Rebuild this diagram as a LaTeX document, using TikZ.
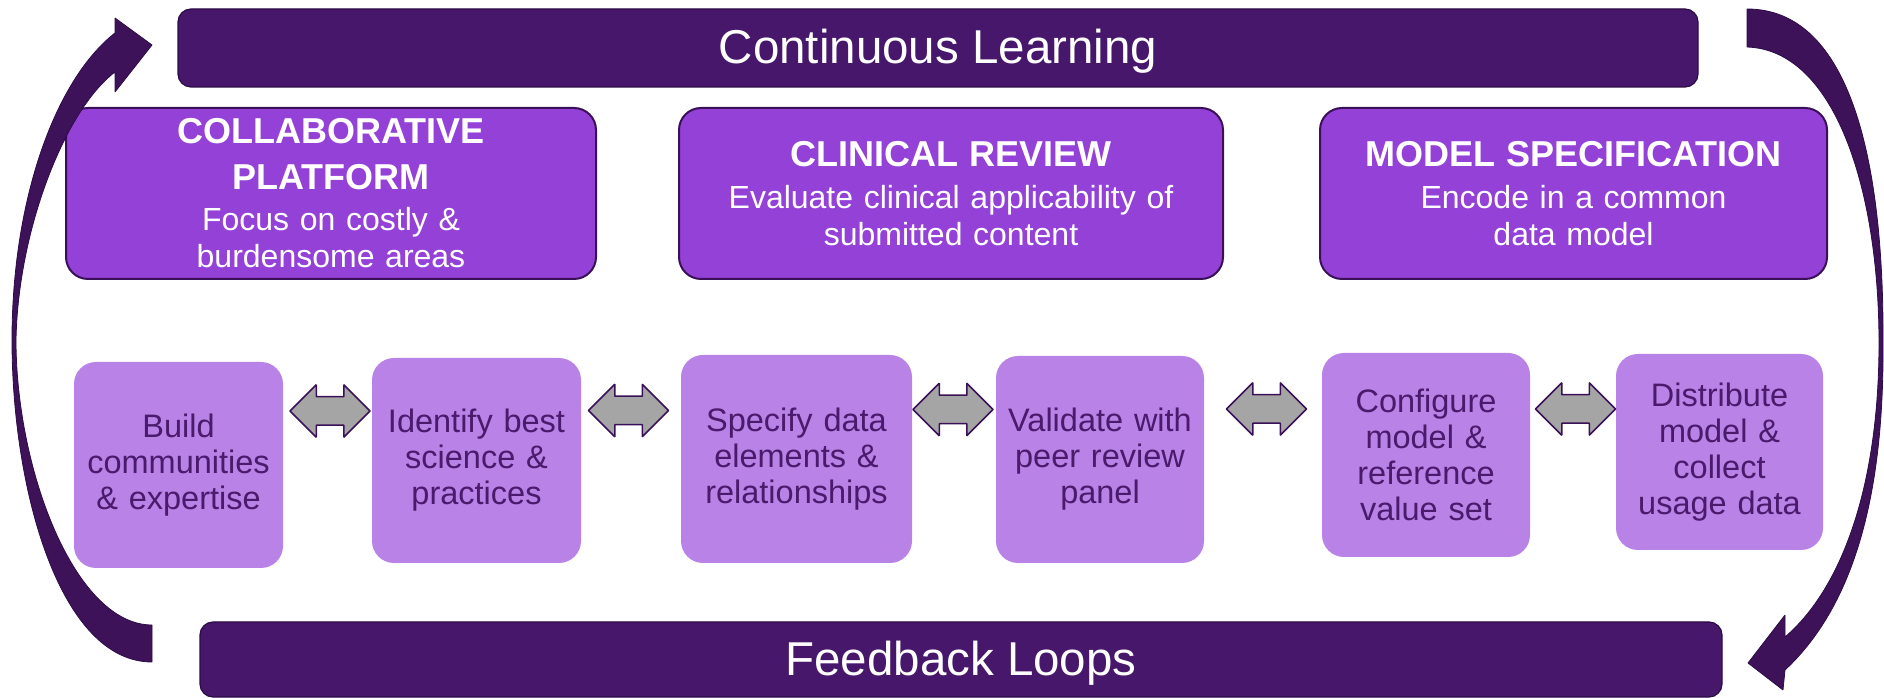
\documentclass[tikz,border=0pt]{standalone}
\usepackage{fontspec}
\setmainfont{Liberation Sans}
\usetikzlibrary{shapes.arrows}
\setlength{\parindent}{0pt}
\definecolor{barpurple}{HTML}{46176A}
\definecolor{barline}{HTML}{2E0C47}
\definecolor{loopdark}{HTML}{3D1259}
\definecolor{phasepurple}{HTML}{9441D8}
\definecolor{phaseline}{HTML}{3A1158}
\definecolor{steppurple}{HTML}{B882E6}
\definecolor{steptext}{HTML}{4A1A6C}
\definecolor{swapgray}{HTML}{A5A5A5}
\newcommand{\phasetitle}{\fontsize{36bp}{45.6bp}\selectfont\bfseries}
\begin{document}
\begin{tikzpicture}[line join=bevel,
  titlebar/.style={draw=barline,line width=1.2bp,fill=barpurple,rounded corners=13bp,text=white,font=\fontsize{47.5bp}{50bp}\selectfont,inner sep=0pt,text height=34bp,text depth=3bp},
  phasebox/.style={draw=phaseline,line width=2bp,fill=phasepurple,rounded corners=22bp,text=white,font=\fontsize{32bp}{37bp}\selectfont,align=center,inner sep=0pt,minimum height=171bp},
  stepbox/.style={fill=steppurple,rounded corners=22bp,text=steptext,font=\fontsize{32.5bp}{36bp}\selectfont,align=center,inner sep=0pt},
  swaparrow/.style={double arrow,draw=phaseline,line width=1.5bp,fill=swapgray,inner xsep=0pt,inner ysep=13.5bp,double arrow head extend=12bp,minimum height=80bp},
  loopband/.style={fill=loopdark,draw=barline,line width=0.8bp}]
%%
\useasboundingbox (0bp,0bp) rectangle (1884bp,698bp);
\node (node_learning) at (938.0bp,650.0bp) [titlebar,minimum width=1520bp,minimum height=78bp] {Continuous Learning};
  \node (node_feedback) at (961.0bp,38.5bp) [titlebar,minimum width=1522bp,minimum height=75bp] {Feedback Loops};
  \node (node_collab) at (331.0bp,504.5bp) [phasebox,text width=530bp] {{\phasetitle COLLABORATIVE\\ PLATFORM\par}\vskip4.5bp Focus on costly \&\\ burdensome areas};
  \node (node_clinical) at (951.0bp,504.5bp) [phasebox,text width=544bp] {{\phasetitle CLINICAL REVIEW\par}\vskip4.5bp Evaluate clinical applicability of\\ submitted content};
  \node (node_model) at (1573.5bp,504.5bp) [phasebox,text width=507bp] {{\phasetitle MODEL SPECIFICATION\par}\vskip4.5bp Encode in a common\\ data model};
  \node (node_build) at (178.5bp,233.0bp) [stepbox,text width=209bp,minimum height=206bp] {Build\\ communities\\ \& expertise};
  \node (node_identify) at (476.5bp,237.5bp) [stepbox,text width=209bp,minimum height=205bp] {Identify best\\ science \&\\ practices};
  \node (node_specify) at (796.5bp,239.0bp) [stepbox,text width=231bp,minimum height=208bp] {Specify data\\ elements \&\\ relationships};
  \node (node_validate) at (1100.0bp,238.5bp) [stepbox,text width=208bp,minimum height=207bp] {Validate with\\ peer review\\ panel};
  \node (node_configure) at (1426.0bp,243.0bp) [stepbox,text width=208bp,minimum height=204bp] {Configure\\ model \&\\ reference\\ value set};
  \node (node_distribute) at (1719.5bp,246.0bp) [stepbox,text width=207bp,minimum height=196bp] {Distribute\\ model \&\\ collect\\ usage data};
  \node (node_swap1) at (330.0bp,287.0bp) [swaparrow] {};
  \node (node_swap2) at (628.5bp,287.5bp) [swaparrow] {};
  \node (node_swap3) at (953.0bp,288.5bp) [swaparrow] {};
  \node (node_swap4) at (1266.5bp,289.0bp) [swaparrow] {};
  \node (node_swap5) at (1575.5bp,289.0bp) [swaparrow] {};
  \filldraw [loopband] (152.0bp,36.0bp) .. controls (60.0bp,36.0bp) and (12.0bp,208.0bp) .. (12.0bp,358.0bp) .. controls (12.0bp,498.0bp) and (55.0bp,618.0bp) .. (115.0bp,665.0bp) -- (115.0bp,680.0bp) -- (152.0bp,653.0bp) -- (115.0bp,606.0bp) -- (115.0bp,626.0bp) .. controls (65.0bp,588.0bp) and (18.0bp,468.0bp) .. (16.0bp,358.0bp) .. controls (16.0bp,228.0bp) and (75.0bp,73.0bp) .. (152.0bp,73.0bp) -- cycle;
  \filldraw [loopband] (1747.0bp,689.0bp) .. controls (1850.0bp,689.0bp) and (1884.0bp,538.0bp) .. (1883.0bp,355.0bp) .. controls (1884.0bp,218.0bp) and (1860.0bp,98.0bp) .. (1785.0bp,28.0bp) -- (1783.0bp,8.0bp) -- (1748.0bp,35.0bp) -- (1785.0bp,83.0bp) -- (1785.0bp,61.0bp) .. controls (1840.0bp,108.0bp) and (1879.0bp,208.0bp) .. (1879.0bp,355.0bp) .. controls (1879.0bp,508.0bp) and (1835.0bp,648.0bp) .. (1747.0bp,651.0bp) -- cycle;
%
\end{tikzpicture}
\end{document}
